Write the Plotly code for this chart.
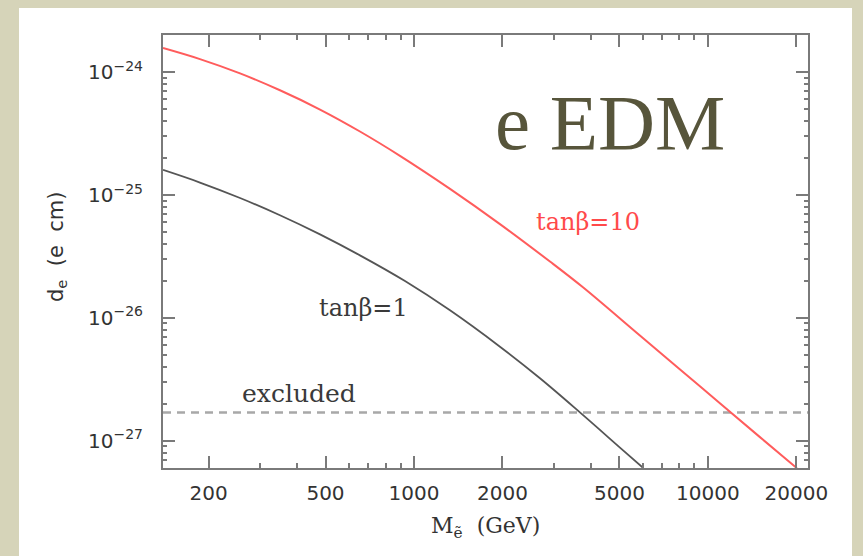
import math
import plotly.graph_objects as go

# Electron EDM versus selectron mass for two values of tan(beta)
mass_tb10 = [140, 187, 256, 350, 479, 655, 896, 1326, 1961, 2901, 3757,
             5870, 9393, 15030, 20080]
edm_tb10 = [1.567e-24, 1.273e-24, 9.74e-25, 7.10e-25, 4.95e-25, 3.28e-25,
            2.08e-25, 1.12e-25, 5.79e-26, 2.87e-26, 1.77e-26, 7.17e-27,
            2.77e-27, 1.07e-27, 5.98e-28]

mass_tb1 = [140, 187, 256, 350, 479, 655, 932, 1326, 1961, 2683, 3669, 5020, 6010]
edm_tb1 = [1.597e-25, 1.261e-25, 9.44e-26, 6.83e-26, 4.77e-26, 3.22e-26,
           1.99e-26, 1.15e-26, 5.82e-27, 3.22e-27, 1.70e-27, 8.80e-28, 6.03e-28]

excluded_limit = 1.7e-27

x_range = [140, 21900]
y_range = [6.0e-28, 2.0e-24]

x_ticks = [200, 500, 1000, 2000, 5000, 10000, 20000]
x_tick_text = ["200", "500", "1000", "2000", "5000", "10000", "20000"]
x_minor = [300, 400, 600, 700, 800, 900, 3000, 4000, 6000, 7000, 8000, 9000]

y_ticks = [1e-24, 1e-25, 1e-26, 1e-27]
y_tick_text = ["10<sup>\u221224</sup>", "10<sup>\u221225</sup>",
               "10<sup>\u221226</sup>", "10<sup>\u221227</sup>"]
y_minor = [m * 10.0 ** e for e in (-28, -27, -26, -25, -24) for m in range(2, 10)]

AXIS = "#7a7a7a"
SANS = "DejaVu Sans"
SERIF = "DejaVu Serif"

fig = go.Figure()

fig.add_trace(go.Scatter(x=x_range, y=[excluded_limit, excluded_limit], mode="lines",
                         line=dict(color="#a8a8a8", width=2.5, dash="8px,6px"),
                         hoverinfo="skip"))
fig.add_trace(go.Scatter(x=mass_tb1, y=edm_tb1, mode="lines",
                         line=dict(color="#555555", width=1.8, shape="spline")))
fig.add_trace(go.Scatter(x=mass_tb10, y=edm_tb10, mode="lines",
                         line=dict(color="#ff5c5c", width=2, shape="spline")))

axis_common = dict(
    type="log", showgrid=False, zeroline=False, showline=True,
    linecolor=AXIS, linewidth=2, mirror="ticks",
    ticks="inside", ticklen=12, tickwidth=1.5, tickcolor=AXIS,
    tickfont=dict(family=SANS, size=20, color="#333333"),
)

fig.update_xaxes(
    range=[math.log10(v) for v in x_range], tickmode="array",
    tickvals=x_ticks, ticktext=x_tick_text, ticklabelstandoff=6,
    minor=dict(tickvals=x_minor, ticks="inside", ticklen=5, tickwidth=1.5, tickcolor=AXIS),
    **axis_common,
)
fig.update_yaxes(
    range=[math.log10(v) for v in y_range], tickmode="array",
    tickvals=y_ticks, ticktext=y_tick_text, ticklabelstandoff=14,
    minor=dict(tickvals=y_minor, ticks="inside", ticklen=4, tickwidth=1.5, tickcolor=AXIS),
    **axis_common,
)

W, H = 863, 556
L, R, T, B = 163, 55, 35, 88
pw, ph = W - L - R, H - T - B


def px(x):
    return (x - L) / pw


def py(y):
    return (H - B - y) / ph


nb = "\u00a0"
annotations = [
    dict(x=px(610), y=py(122), text="e EDM", showarrow=False,
         font=dict(family="Liberation Serif", size=79, color="#57553b")),
    dict(x=px(588), y=py(222), text="tan\u03b2=10", showarrow=False,
         font=dict(family=SERIF, size=24, color="#ff4a4a")),
    dict(x=px(363), y=py(308), text="tan\u03b2=1", showarrow=False,
         font=dict(family=SERIF, size=24, color="#3a3a3a")),
    dict(x=px(299), y=py(393), text="excluded", showarrow=False,
         font=dict(family=SERIF, size=25, color="#3a3a3a")),
    dict(x=px(485), y=py(527),
         text="M<sub>\u1ebd</sub>" + nb * 2 + "(GeV)", showarrow=False,
         font=dict(family=SERIF, size=22, color="#333333")),
    dict(x=px(57), y=py(247), textangle=-90,
         text="d<sub>e</sub>" + nb * 2 + "(e" + nb * 2 + "cm)", showarrow=False,
         font=dict(family=SANS, size=21, color="#333333")),
]
for a in annotations:
    a.update(xref="paper", yref="paper", xanchor="center", yanchor="middle")

# white card on the textured page
shapes = [dict(type="rect", xref="paper", yref="paper", layer="below",
               x0=px(19), x1=px(852), y0=py(H + 5), y1=py(8),
               fillcolor="white", line=dict(width=0))]

fig.update_layout(
    width=W, height=H, autosize=False,
    margin=dict(l=L, r=R, t=T, b=B),
    paper_bgcolor="#d6d4b9", plot_bgcolor="rgba(0,0,0,0)",
    showlegend=False, annotations=annotations, shapes=shapes,
)

fig.write_html("out.html")
